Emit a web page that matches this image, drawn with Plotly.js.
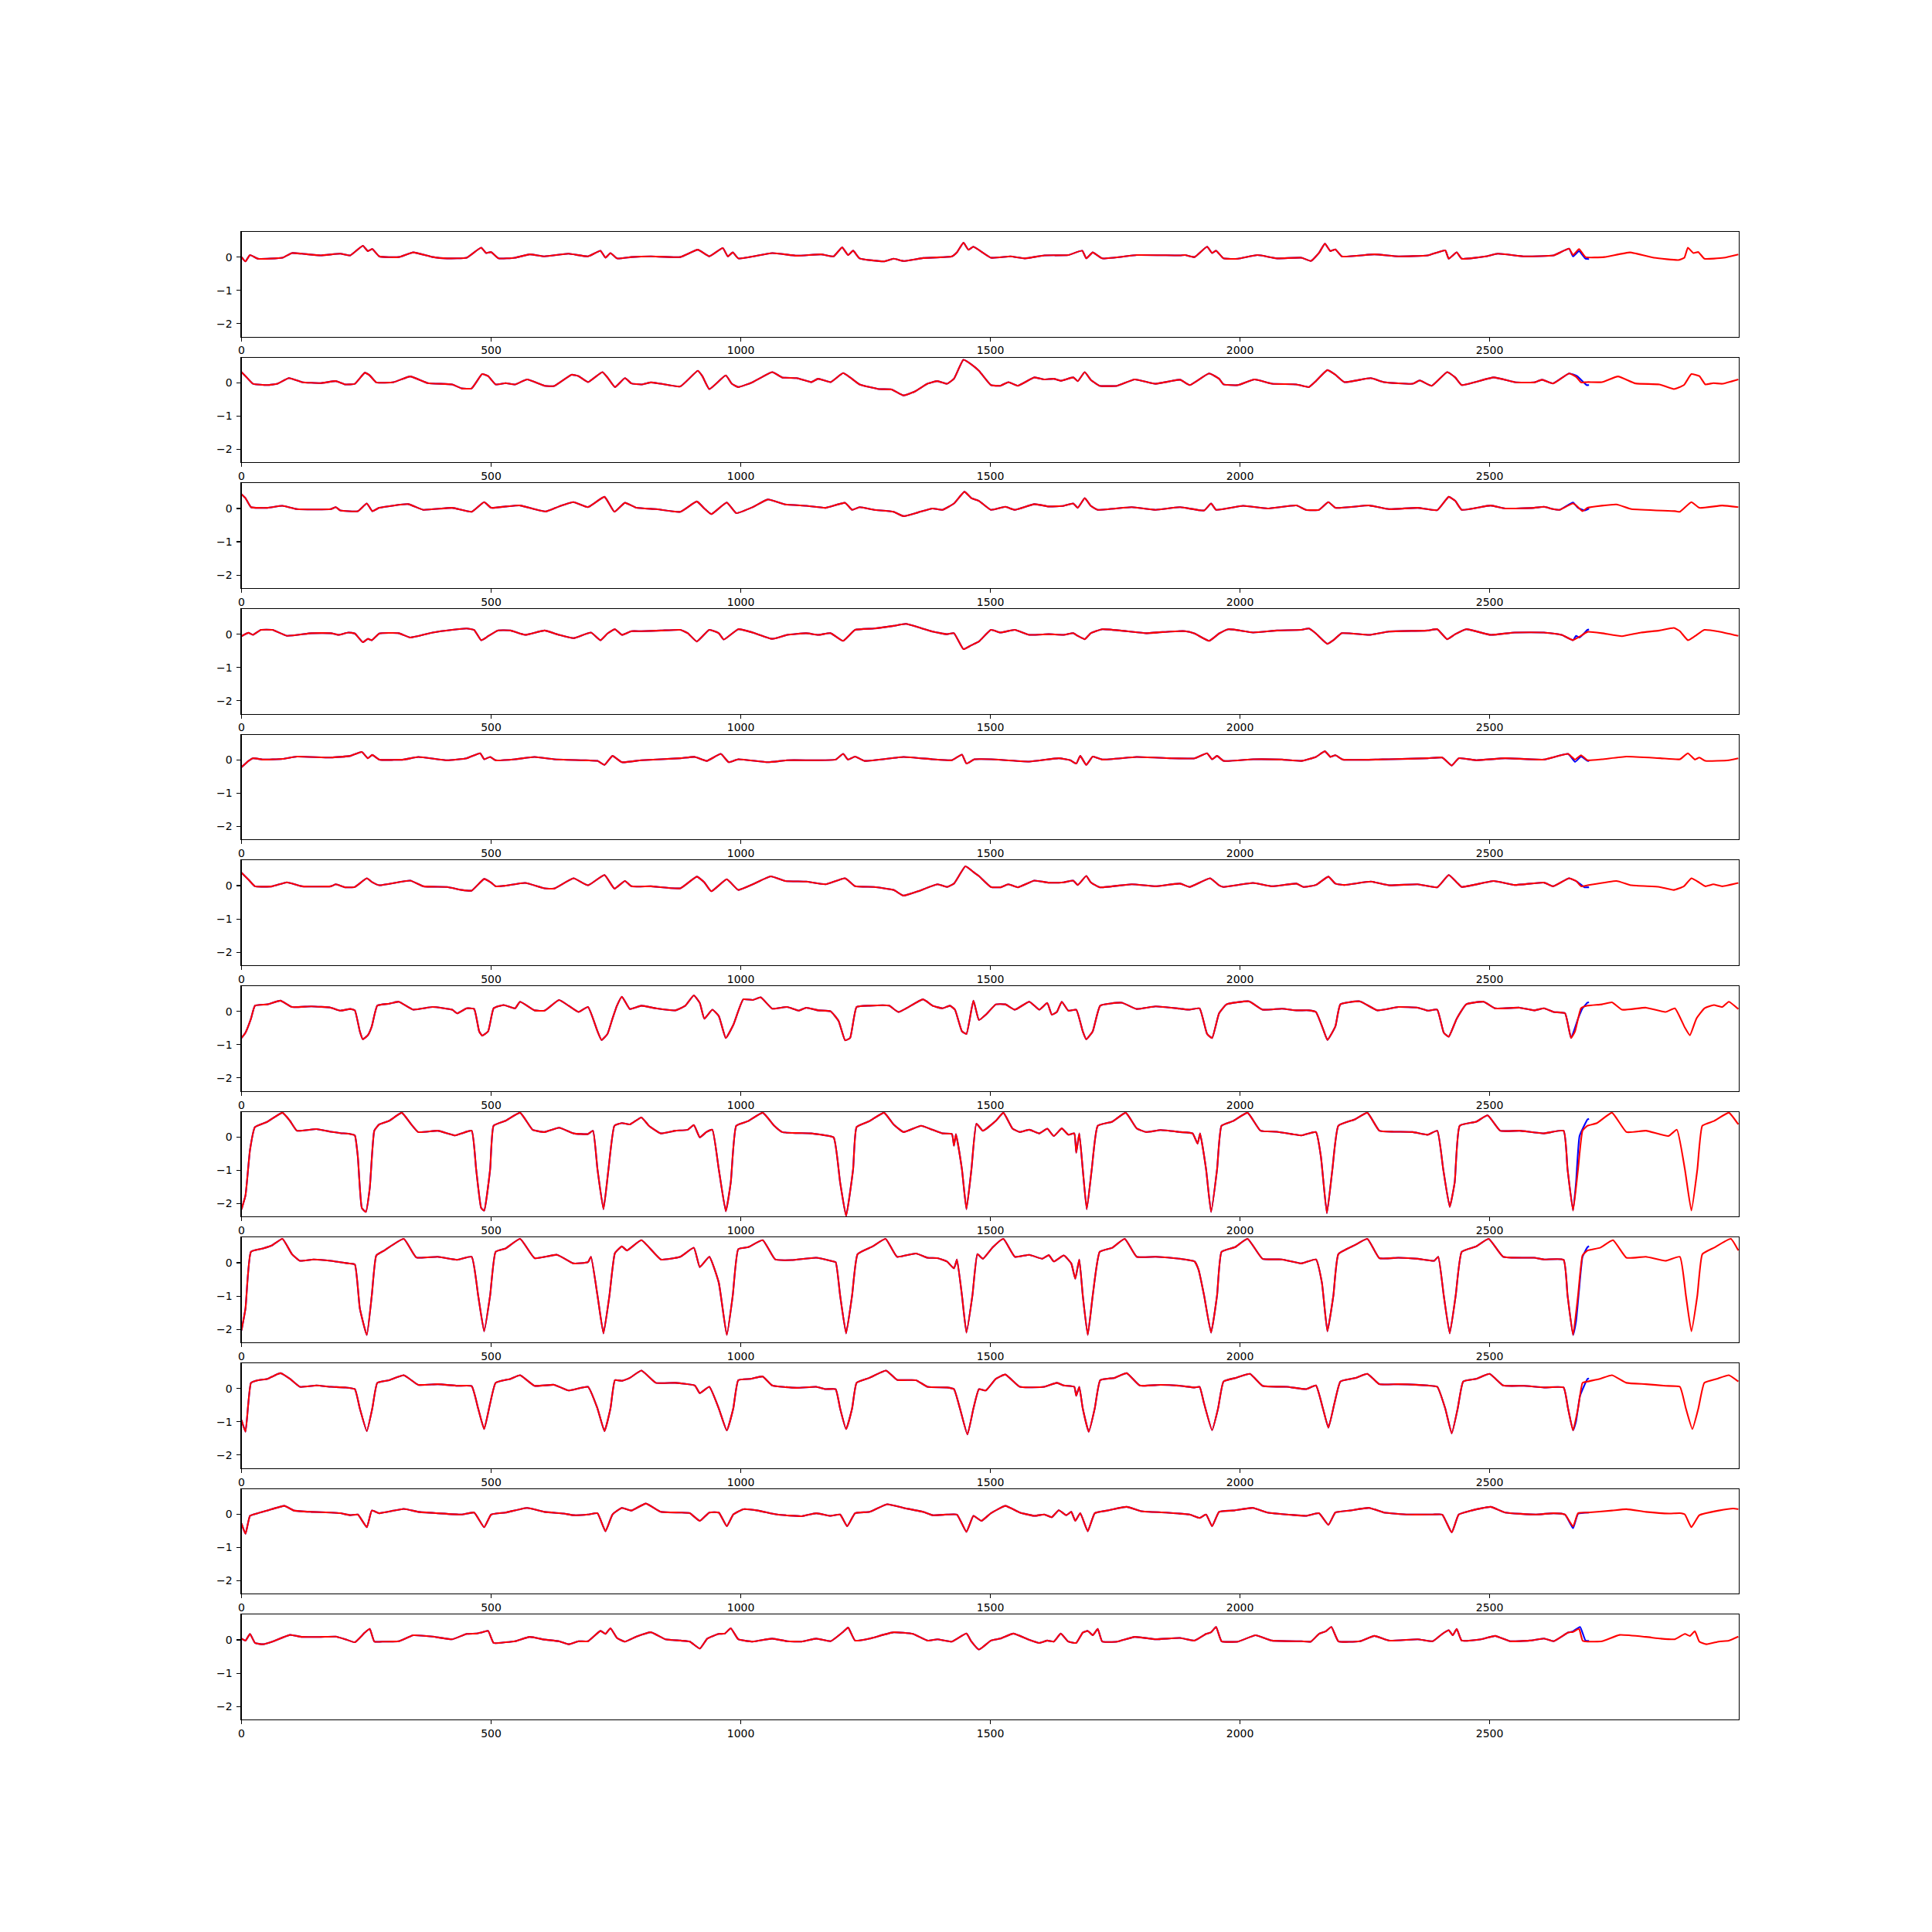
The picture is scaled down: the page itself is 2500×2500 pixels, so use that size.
<!DOCTYPE html>
<html>
<head>
<meta charset="utf-8">
<script src="https://cdn.plot.ly/plotly-3.0.1.min.js"></script>
<style>html,body{margin:0;padding:0;background:#fff;}#chart{width:2500px;height:2500px;}</style>
</head>
<body>
<div id="chart"></div>
<script>
// Each lead: [sample index, amplitude] pairs (red trace, 0..2999)
const lead1 = [[0,0],[8,-0.13],[17,0.06],[33,-0.05],[82,-0.02],[101,0.12],[121,0.10],[159,0.05],[198,0.10],[218,0.05],[243,0.34],[253,0.18],[262,0.24],[276,0.02],[315,0],[344,0.14],[383,0],[412,-0.04],[451,-0.02],[480,0.28],[490,0.12],[500,0.15],[515,-0.04],[548,-0.02],[577,0.08],[607,0.02],[655,0.10],[694,0.02],[719,0.19],[729,-0.02],[739,0.12],[752,-0.04],[781,0],[820,0.02],[879,0],[914,0.22],[937,0.02],[964,0.27],[974,0.02],[984,0.14],[995,-0.04],[1063,0.12],[1112,0.04],[1161,0.08],[1186,0.02],[1203,0.29],[1215,0.06],[1225,0.19],[1238,-0.04],[1287,-0.13],[1306,-0.05],[1326,-0.12],[1365,-0.03],[1423,0.02],[1433,0.14],[1446,0.43],[1456,0.22],[1466,0.31],[1501,-0.02],[1540,0.02],[1569,-0.04],[1608,0.05],[1656,0.06],[1684,0.19],[1692,-0.04],[1705,0.14],[1724,-0.04],[1793,0.06],[1880,0.05],[1890,0.06],[1909,0],[1934,0.31],[1944,0.12],[1952,0.19],[1967,-0.04],[1996,-0.05],[2035,0.06],[2074,-0.04],[2123,-0.02],[2142,-0.12],[2158,0.12],[2170,0.40],[2181,0.18],[2191,0.23],[2204,0.02],[2269,0.08],[2317,0.02],[2376,0.05],[2411,0.20],[2418,-0.05],[2434,0.14],[2444,-0.05],[2492,0.02],[2516,0.10],[2570,0.02],[2628,0.05],[2659,0.25],[2667,0.06],[2679,0.24],[2692,0],[2730,0],[2781,0.14],[2829,-0.02],[2878,-0.09],[2890,-0.02],[2897,0.28],[2908,0.12],[2918,0.15],[2930,-0.05],[2969,-0.02],[2998,0.08]];
const lead2 = [[0,0.32],[8,0.20],[23,-0.03],[52,-0.07],[72,-0.03],[95,0.14],[121,0.02],[159,-0.01],[189,0.05],[208,-0.05],[227,-0.03],[247,0.30],[257,0.22],[270,0.01],[305,0.02],[338,0.19],[373,-0.01],[422,-0.05],[441,-0.17],[461,-0.17],[482,0.26],[494,0.20],[509,-0.05],[529,-0.01],[548,-0.05],[572,0.10],[607,-0.09],[626,-0.10],[661,0.24],[675,0.20],[694,0.02],[723,0.32],[733,0.16],[748,-0.13],[768,0.14],[781,-0.02],[801,-0.05],[820,0.01],[840,-0.03],[879,-0.11],[914,0.36],[923,0.20],[937,-0.19],[970,0.22],[982,-0.03],[995,-0.13],[1024,0.02],[1063,0.32],[1083,0.16],[1112,0.14],[1141,0.02],[1155,0.12],[1180,0.02],[1205,0.29],[1219,0.16],[1238,-0.05],[1277,-0.19],[1302,-0.20],[1326,-0.38],[1349,-0.26],[1374,-0.03],[1394,0.05],[1413,-0.03],[1427,0.12],[1446,0.69],[1462,0.55],[1477,0.36],[1501,-0.07],[1520,-0.09],[1536,0.02],[1555,-0.09],[1588,0.16],[1608,0.10],[1627,0.12],[1641,0.06],[1666,0.16],[1675,0.05],[1689,0.32],[1701,0.09],[1719,-0.09],[1754,-0.09],[1789,0.10],[1831,-0.03],[1880,0.09],[1899,-0.07],[1938,0.28],[1958,0.12],[1967,-0.05],[1996,-0.07],[2029,0.10],[2064,-0.03],[2113,-0.05],[2138,-0.13],[2152,0.05],[2175,0.38],[2191,0.24],[2209,0.02],[2262,0.14],[2288,0.02],[2346,-0.03],[2360,0.07],[2384,-0.09],[2415,0.32],[2431,0.16],[2444,-0.07],[2508,0.16],[2550,0.02],[2589,0.01],[2605,0.09],[2627,-0.02],[2659,0.28],[2673,0.18],[2683,0.01],[2696,0.02],[2725,0.02],[2757,0.19],[2792,-0.02],[2840,-0.05],[2869,-0.19],[2889,-0.07],[2904,0.26],[2920,0.20],[2932,-0.05],[2948,-0.01],[2966,-0.03],[2998,0.10]];
const lead3 = [[0,0.43],[8,0.31],[19,0.04],[52,0.02],[82,0.08],[111,-0.02],[179,-0.02],[189,0.04],[198,-0.06],[233,-0.08],[251,0.15],[262,-0.08],[276,0.02],[334,0.13],[364,-0.04],[422,0.02],[461,-0.10],[486,0.19],[500,0.02],[529,0.06],[558,0.09],[587,-0.02],[610,-0.09],[636,0.06],[665,0.19],[694,0.04],[727,0.35],[747,-0.10],[768,0.17],[791,0.02],[830,-0.02],[879,-0.10],[912,0.21],[927,0],[941,-0.17],[972,0.18],[991,-0.14],[1024,0.04],[1054,0.27],[1089,0.12],[1131,0.08],[1170,0.02],[1209,0.17],[1223,-0.04],[1238,0.04],[1267,-0.04],[1306,-0.10],[1326,-0.23],[1355,-0.12],[1384,0],[1404,-0.04],[1427,0.15],[1448,0.50],[1462,0.31],[1477,0.23],[1501,-0.04],[1530,0.05],[1549,-0.04],[1588,0.13],[1617,0.06],[1647,0.08],[1666,0.15],[1675,0.02],[1689,0.31],[1701,0.08],[1715,-0.04],[1783,0.04],[1831,-0.04],[1880,0.04],[1928,-0.06],[1942,0.15],[1952,-0.04],[2006,0.08],[2055,0],[2113,0.09],[2132,-0.04],[2158,-0.04],[2177,0.19],[2191,0.02],[2259,0.09],[2298,-0.02],[2356,0.02],[2395,-0.05],[2418,0.35],[2431,0.23],[2444,-0.04],[2502,0.09],[2531,0],[2589,0.02],[2609,0.05],[2627,-0.02],[2640,-0.04],[2667,0.15],[2677,0.04],[2686,-0.08],[2696,0.02],[2754,0.12],[2784,-0.02],[2871,-0.08],[2881,-0.10],[2904,0.19],[2920,0.02],[2966,0.09],[2998,0.04]];
const lead4 = [[0,-0.06],[14,0.04],[23,-0.02],[39,0.13],[62,0.13],[91,-0.05],[140,0.03],[179,0.03],[194,-0.02],[214,0.05],[227,0.02],[243,-0.24],[253,-0.14],[261,-0.18],[276,0.02],[315,0.03],[338,-0.10],[383,0.05],[422,0.13],[451,0.17],[466,0.13],[480,-0.18],[494,-0.06],[513,0.11],[539,0.11],[568,-0.02],[607,0.11],[636,-0.02],[665,-0.12],[700,0.05],[719,-0.18],[733,0.02],[748,0.15],[762,-0.02],[781,0.09],[801,0.09],[840,0.11],[879,0.13],[894,0.03],[912,-0.22],[937,0.13],[956,0.03],[966,-0.16],[995,0.15],[1024,0.05],[1063,-0.14],[1093,-0.02],[1131,0.03],[1155,-0.02],[1180,0.03],[1205,-0.20],[1229,0.13],[1267,0.17],[1306,0.25],[1331,0.31],[1355,0.21],[1384,0.08],[1413,0],[1427,0.03],[1446,-0.45],[1462,-0.33],[1477,-0.22],[1501,0.13],[1520,0.05],[1549,0.13],[1578,-0.02],[1617,0],[1647,-0.02],[1666,0.03],[1675,-0.05],[1689,-0.15],[1701,0.03],[1724,0.15],[1773,0.09],[1812,0.03],[1860,0.08],[1890,0.09],[1909,0.02],[1938,-0.20],[1958,0.02],[1977,0.15],[2026,0.05],[2074,0.11],[2123,0.13],[2138,0.17],[2152,0.02],[2175,-0.29],[2187,-0.18],[2204,0.03],[2259,-0.02],[2298,0.08],[2376,0.11],[2395,0.15],[2415,-0.15],[2431,0],[2453,0.15],[2502,-0.02],[2550,0.05],[2609,0.05],[2644,-0.02],[2667,-0.18],[2677,-0.10],[2690,0.02],[2696,0.07],[2725,0.03],[2765,-0.06],[2803,0.05],[2840,0.11],[2869,0.19],[2881,0.09],[2897,-0.18],[2911,-0.06],[2930,0.13],[2959,0.08],[2998,-0.05]];
const lead5 = [[0,-0.22],[14,-0.03],[23,0.05],[43,0.01],[82,0.03],[111,0.10],[179,0.07],[218,0.12],[241,0.24],[253,0.05],[262,0.15],[276,0.01],[325,0.01],[354,0.09],[412,-0.01],[451,0.05],[478,0.20],[486,0.02],[498,0.09],[509,-0.01],[548,0.02],[587,0.09],[626,0.02],[684,-0.01],[713,-0.03],[727,-0.15],[743,0.12],[762,-0.07],[801,-0.01],[879,0.05],[908,0.09],[932,-0.03],[960,0.18],[976,-0.07],[995,0.02],[1054,-0.07],[1093,-0.01],[1151,-0.01],[1190,0.01],[1205,0.18],[1215,0.01],[1229,0.10],[1248,-0.03],[1326,0.09],[1384,0.02],[1423,-0.01],[1443,0.16],[1452,-0.11],[1468,0.02],[1501,0.02],[1578,-0.05],[1637,0.05],[1660,-0.01],[1672,-0.11],[1680,0.12],[1692,-0.15],[1705,0.10],[1724,0.01],[1793,0.09],[1860,0.05],[1909,0.05],[1934,0.20],[1944,0.02],[1954,0.12],[1967,-0.03],[2026,0.02],[2084,0.01],[2123,-0.03],[2152,0.09],[2170,0.26],[2181,0.09],[2191,0.14],[2206,0.01],[2298,0.02],[2376,0.05],[2405,0.07],[2424,-0.17],[2438,0.05],[2473,-0.01],[2531,0.05],[2609,0.01],[2657,0.18],[2671,0.01],[2683,0.14],[2696,-0.01],[2725,0.02],[2774,0.10],[2842,0.05],[2881,0.02],[2897,0.20],[2911,0.01],[2920,0.07],[2932,-0.03],[2979,-0.01],[2998,0.05]];
const lead6 = [[0,0.39],[14,0.18],[27,-0.02],[62,-0.02],[91,0.10],[121,-0.02],[179,-0.02],[189,0.04],[208,-0.05],[227,-0.04],[251,0.22],[262,0.10],[276,0.01],[338,0.15],[364,-0.02],[412,-0.04],[441,-0.13],[461,-0.15],[486,0.20],[500,0.09],[509,-0.02],[529,0],[568,0.08],[607,-0.08],[626,-0.09],[665,0.22],[694,0.01],[727,0.32],[747,-0.09],[768,0.14],[781,-0.02],[820,-0.02],[879,-0.08],[912,0.27],[927,0.10],[941,-0.17],[972,0.19],[995,-0.13],[1024,0.04],[1060,0.28],[1089,0.14],[1131,0.12],[1170,0.04],[1209,0.22],[1229,-0.02],[1267,-0.04],[1306,-0.13],[1326,-0.30],[1355,-0.17],[1394,0.04],[1413,-0.04],[1427,0.06],[1450,0.58],[1466,0.41],[1477,0.29],[1501,-0.04],[1520,-0.05],[1536,0.04],[1555,-0.05],[1588,0.15],[1617,0.09],[1647,0.10],[1666,0.15],[1675,0.02],[1692,0.29],[1701,0.10],[1719,-0.05],[1783,0.04],[1831,-0.02],[1880,0.06],[1899,-0.04],[1940,0.22],[1958,0.01],[1967,-0.04],[2026,0.08],[2064,-0.02],[2113,0.06],[2127,-0.04],[2152,0.02],[2177,0.27],[2191,0.06],[2209,0.02],[2262,0.12],[2298,0.01],[2356,0.04],[2395,-0.05],[2418,0.32],[2434,0.10],[2444,-0.04],[2508,0.14],[2550,0.02],[2609,0.09],[2627,-0.02],[2659,0.22],[2673,0.14],[2683,-0.02],[2696,0.01],[2754,0.14],[2784,0.01],[2840,-0.04],[2869,-0.13],[2889,-0.02],[2904,0.22],[2920,0.09],[2932,-0.02],[2948,0.04],[2966,-0.02],[2998,0.08]];
const lead7 = [[0,-0.80],[8,-0.64],[19,-0.22],[27,0.17],[52,0.21],[78,0.32],[101,0.13],[140,0.15],[179,0.11],[198,0.02],[218,0.07],[227,0.03],[237,-0.60],[243,-0.84],[253,-0.72],[261,-0.45],[272,0.17],[296,0.23],[315,0.29],[344,0.05],[383,0.13],[422,0.05],[432,-0.06],[451,0.09],[466,0.07],[476,-0.60],[482,-0.73],[494,-0.60],[505,0.09],[525,0.19],[548,0.09],[558,0.29],[587,0.03],[607,0.02],[636,0.34],[655,0.17],[675,-0.02],[694,0.13],[713,-0.60],[721,-0.86],[733,-0.68],[743,-0.22],[752,0.17],[762,0.44],[778,0.07],[801,0.17],[830,0.09],[869,0.03],[889,0.17],[906,0.48],[918,0.25],[927,-0.22],[943,0.05],[956,-0.14],[970,-0.80],[985,-0.41],[1005,0.36],[1024,0.34],[1040,0.42],[1063,0.08],[1093,0.13],[1116,0.02],[1131,0.11],[1155,0.03],[1180,0],[1196,-0.29],[1209,-0.87],[1219,-0.80],[1232,0.13],[1258,0.17],[1297,0.17],[1316,-0.02],[1365,0.36],[1384,0.17],[1404,0.09],[1419,0.17],[1429,0.05],[1443,-0.60],[1452,-0.68],[1466,0.32],[1477,-0.26],[1491,-0.10],[1511,0.21],[1530,0.21],[1549,0.05],[1578,0.29],[1598,0.05],[1614,0.25],[1623,-0.10],[1633,-0.02],[1643,0.29],[1656,0.02],[1672,0.05],[1685,-0.60],[1692,-0.84],[1705,-0.60],[1720,0.17],[1763,0.26],[1793,0.07],[1831,0.15],[1880,0.08],[1899,0.05],[1919,0.09],[1934,-0.68],[1944,-0.80],[1958,-0.06],[1973,0.21],[2018,0.30],[2045,0.05],[2084,0.08],[2113,0.03],[2138,0.03],[2152,-0.02],[2168,-0.60],[2175,-0.86],[2191,-0.45],[2201,0.21],[2240,0.30],[2275,0.03],[2317,0.13],[2356,0.11],[2376,0.02],[2395,0.05],[2408,-0.64],[2418,-0.76],[2434,-0.22],[2453,0.21],[2488,0.29],[2511,0.09],[2560,0.11],[2589,0.03],[2609,0.09],[2628,-0.02],[2651,-0.06],[2663,-0.80],[2671,-0.60],[2683,0.09],[2696,0.17],[2725,0.21],[2745,0.27],[2765,0.05],[2813,0.11],[2852,-0.02],[2871,0.09],[2891,-0.49],[2901,-0.72],[2914,-0.22],[2930,0.09],[2949,0.19],[2966,0.13],[2979,0.29],[2998,0.07]];
const lead8 = [[0,-2.17],[8,-1.75],[17,-0.39],[27,0.30],[52,0.46],[82,0.73],[97,0.49],[111,0.19],[150,0.24],[179,0.16],[198,0.12],[218,0.09],[227,0.05],[233,-0.59],[241,-2.13],[249,-2.25],[257,-1.52],[266,0.19],[276,0.38],[296,0.49],[321,0.73],[338,0.42],[354,0.15],[393,0.19],[428,0.05],[441,0.11],[461,0.19],[470,-0.97],[480,-2.13],[486,-2.21],[498,-0.97],[505,0.34],[529,0.49],[558,0.73],[583,0.22],[607,0.15],[636,0.28],[665,0.11],[694,0.09],[704,0.19],[713,-0.97],[725,-2.17],[735,-0.97],[747,0.34],[762,0.42],[778,0.38],[801,0.59],[816,0.34],[840,0.11],[869,0.19],[894,0.22],[906,0.36],[918,-0.01],[931,0.15],[943,0.22],[956,-0.97],[970,-2.23],[980,-1.36],[991,0.34],[1015,0.48],[1044,0.73],[1067,0.34],[1083,0.15],[1112,0.12],[1141,0.11],[1161,0.07],[1186,-0.01],[1199,-1.36],[1211,-2.37],[1225,-0.97],[1232,0.30],[1258,0.48],[1287,0.73],[1306,0.38],[1326,0.15],[1361,0.34],[1384,0.22],[1404,0.11],[1423,0.09],[1427,-0.26],[1431,0.09],[1443,-0.97],[1452,-2.17],[1462,-0.97],[1472,0.40],[1485,0.19],[1511,0.49],[1526,0.73],[1544,0.26],[1559,0.15],[1578,0.22],[1598,0.11],[1614,0.25],[1627,0.03],[1643,0.26],[1656,0.07],[1668,0.11],[1672,-0.47],[1678,0.11],[1685,-0.97],[1693,-2.17],[1703,-0.97],[1715,0.34],[1744,0.46],[1771,0.73],[1793,0.26],[1812,0.15],[1841,0.21],[1880,0.15],[1905,0.11],[1915,-0.20],[1920,0.11],[1932,-0.97],[1942,-2.25],[1954,-0.97],[1963,0.34],[1986,0.48],[2015,0.73],[2041,0.19],[2074,0.16],[2123,0.05],[2152,0.15],[2162,-0.59],[2174,-2.29],[2185,-0.97],[2197,0.34],[2230,0.53],[2255,0.73],[2279,0.19],[2308,0.16],[2346,0.15],[2376,0.07],[2395,0.19],[2407,-0.97],[2420,-2.10],[2430,-1.36],[2440,0.34],[2473,0.46],[2496,0.65],[2521,0.19],[2560,0.19],[2609,0.11],[2648,0.19],[2656,-0.97],[2667,-2.21],[2677,-0.97],[2686,0.19],[2696,0.34],[2715,0.42],[2745,0.73],[2774,0.15],[2813,0.19],[2858,0.03],[2875,0.22],[2891,-0.97],[2904,-2.21],[2916,-0.97],[2926,0.34],[2949,0.48],[2979,0.73],[2998,0.38]];
const lead9 = [[0,-2.03],[8,-1.37],[19,0.33],[43,0.43],[62,0.53],[82,0.72],[101,0.26],[117,0.06],[144,0.10],[179,0.06],[214,-0.02],[227,-0.05],[237,-1.37],[251,-2.17],[261,-0.98],[270,0.22],[286,0.37],[325,0.72],[350,0.16],[393,0.18],[432,0.09],[461,0.18],[474,-0.98],[486,-2.06],[498,-0.98],[509,0.33],[529,0.43],[558,0.72],[587,0.14],[632,0.24],[665,-0.02],[694,0.02],[700,0.18],[713,-0.98],[725,-2.12],[737,-0.98],[748,0.29],[762,0.49],[772,0.37],[801,0.68],[840,0.10],[879,0.18],[906,0.45],[918,-0.13],[937,0.18],[956,-0.60],[972,-2.17],[984,-0.98],[995,0.41],[1015,0.47],[1044,0.68],[1069,0.10],[1102,0.08],[1151,0.15],[1180,0.06],[1190,0.02],[1199,-0.98],[1211,-2.12],[1223,-0.98],[1234,0.26],[1264,0.49],[1290,0.72],[1313,0.18],[1351,0.28],[1374,0.15],[1394,0.14],[1413,0.04],[1427,-0.17],[1433,0.10],[1443,-0.98],[1452,-2.10],[1464,-0.98],[1474,0.26],[1485,0.12],[1505,0.47],[1526,0.72],[1549,0.18],[1578,0.24],[1604,0.12],[1617,0.23],[1627,0.04],[1647,0.22],[1662,-0.02],[1670,-0.48],[1678,0.10],[1685,-0.98],[1695,-2.17],[1705,-0.98],[1719,0.33],[1744,0.45],[1769,0.72],[1793,0.18],[1831,0.18],[1880,0.12],[1909,0.04],[1917,-0.21],[1928,-0.98],[1942,-2.10],[1954,-0.98],[1963,0.33],[1990,0.47],[2015,0.72],[2045,0.12],[2084,0.10],[2123,-0.02],[2152,0.10],[2164,-0.60],[2175,-2.06],[2187,-0.98],[2197,0.26],[2230,0.53],[2255,0.72],[2279,0.14],[2317,0.15],[2356,0.12],[2389,0.06],[2397,0.18],[2408,-0.98],[2420,-2.12],[2432,-0.98],[2444,0.33],[2473,0.49],[2498,0.72],[2527,0.18],[2589,0.15],[2609,0.10],[2648,0.09],[2656,-0.98],[2667,-2.17],[2677,-0.98],[2686,0.22],[2696,0.37],[2721,0.45],[2747,0.68],[2774,0.15],[2813,0.18],[2852,0.06],[2881,0.18],[2893,-0.98],[2904,-2.06],[2916,-0.98],[2926,0.26],[2949,0.45],[2983,0.72],[2998,0.37]];
const lead10 = [[0,-0.95],[8,-1.30],[19,0.17],[33,0.25],[52,0.29],[78,0.46],[97,0.29],[117,0.05],[150,0.09],[179,0.05],[208,0.03],[227,-0.02],[237,-0.60],[251,-1.28],[262,-0.60],[272,0.17],[296,0.25],[325,0.40],[354,0.11],[393,0.13],[432,0.08],[461,0.07],[474,-0.60],[486,-1.22],[498,-0.45],[509,0.17],[539,0.29],[558,0.40],[587,0.08],[626,0.11],[655,-0.06],[694,0.05],[713,-0.60],[727,-1.28],[739,-0.60],[748,0.25],[762,0.23],[778,0.32],[801,0.54],[830,0.17],[869,0.17],[908,0.09],[918,-0.14],[937,0.05],[956,-0.60],[972,-1.26],[985,-0.60],[995,0.25],[1020,0.29],[1044,0.36],[1063,0.09],[1112,0.02],[1151,0.05],[1170,-0.02],[1190,-0.02],[1199,-0.60],[1211,-1.22],[1223,-0.60],[1232,0.17],[1258,0.32],[1291,0.54],[1313,0.26],[1351,0.25],[1374,0.05],[1413,0.03],[1427,-0.02],[1439,-0.60],[1454,-1.38],[1466,-0.60],[1477,-0.02],[1491,-0.06],[1511,0.29],[1530,0.42],[1559,0.05],[1608,0.05],[1633,0.17],[1647,0.09],[1668,0.05],[1672,-0.22],[1678,0.05],[1685,-0.60],[1697,-1.30],[1709,-0.60],[1720,0.25],[1749,0.32],[1773,0.46],[1799,0.09],[1841,0.11],[1880,0.08],[1909,0.03],[1919,0.05],[1928,-0.45],[1944,-1.25],[1956,-0.60],[1967,0.21],[1992,0.32],[2020,0.44],[2045,0.08],[2094,0.05],[2132,-0.02],[2152,0.09],[2166,-0.60],[2177,-1.18],[2189,-0.45],[2201,0.21],[2230,0.31],[2255,0.44],[2279,0.13],[2317,0.13],[2376,0.09],[2395,0.05],[2411,-0.60],[2424,-1.35],[2436,-0.60],[2447,0.21],[2473,0.29],[2500,0.44],[2527,0.09],[2569,0.08],[2609,0.03],[2648,0.03],[2657,-0.60],[2667,-1.26],[2677,-0.60],[2686,0.17],[2696,0.21],[2721,0.29],[2745,0.40],[2774,0.17],[2813,0.13],[2852,0.08],[2881,0.05],[2893,-0.60],[2906,-1.22],[2918,-0.60],[2930,0.17],[2955,0.29],[2979,0.40],[2998,0.21]];
const lead11 = [[0,-0.28],[8,-0.59],[17,-0.05],[33,0.03],[52,0.11],[86,0.25],[105,0.11],[140,0.07],[179,0.05],[198,0.03],[218,-0.03],[233,-0.01],[251,-0.39],[261,0.11],[276,0.03],[325,0.16],[354,0.07],[393,0.03],[441,-0.01],[466,0.05],[486,-0.39],[500,-0.01],[529,0.05],[572,0.19],[607,0.07],[645,0.02],[665,-0.03],[694,-0.01],[713,0.03],[729,-0.51],[743,-0.01],[762,0.19],[781,0.11],[810,0.32],[840,0.07],[879,0.05],[898,0.03],[918,-0.20],[937,0.05],[956,0.05],[972,-0.36],[985,-0.01],[1005,0.15],[1034,0.11],[1073,-0.01],[1122,-0.06],[1151,0.03],[1180,-0.05],[1199,-0.01],[1213,-0.36],[1229,0.03],[1258,0.07],[1293,0.30],[1326,0.19],[1365,0.07],[1384,-0.03],[1413,-0.01],[1433,-0.01],[1452,-0.53],[1466,-0.05],[1482,-0.20],[1501,0.03],[1530,0.25],[1559,0.05],[1588,-0.05],[1608,-0.01],[1623,-0.09],[1637,0.12],[1652,-0.03],[1662,0.07],[1670,-0.20],[1680,0.03],[1695,-0.51],[1709,0.03],[1734,0.11],[1773,0.22],[1802,0.09],[1851,0.05],[1899,-0.01],[1919,-0.11],[1932,-0.01],[1944,-0.36],[1958,0.07],[1986,0.11],[2026,0.19],[2055,0.05],[2103,-0.02],[2132,-0.05],[2158,0.03],[2177,-0.32],[2191,0.05],[2220,0.11],[2259,0.19],[2288,0.05],[2337,-0.01],[2386,-0.01],[2405,-0.01],[2424,-0.55],[2438,-0.01],[2463,0.11],[2502,0.22],[2531,0.05],[2593,-0.01],[2628,0.03],[2651,-0.01],[2667,-0.37],[2677,0.03],[2696,0.05],[2745,0.11],[2774,0.15],[2813,0.07],[2860,0.02],[2881,0.03],[2891,-0.01],[2904,-0.39],[2920,-0.03],[2959,0.11],[2988,0.17],[2998,0.15]];
const lead12 = [[0,0.04],[8,-0.02],[17,0.18],[27,-0.09],[43,-0.13],[62,-0.05],[97,0.15],[121,0.09],[159,0.09],[189,0.10],[208,0.02],[227,-0.07],[247,0.22],[257,0.33],[266,-0.05],[286,-0.05],[315,-0.04],[344,0.14],[383,0.10],[422,0.02],[451,0.18],[470,0.19],[480,0.22],[494,0.27],[505,-0.09],[529,-0.07],[548,-0.04],[577,0.09],[607,0.01],[636,-0.04],[655,-0.13],[675,-0.04],[694,-0.04],[719,0.27],[729,0.18],[739,0.35],[752,0.06],[768,-0.05],[791,0.10],[820,0.23],[849,0.02],[879,-0.02],[898,-0.05],[918,-0.26],[933,0.04],[956,0.18],[968,0.19],[980,0.35],[995,0.02],[1024,-0.05],[1063,0.04],[1093,-0.04],[1122,-0.05],[1151,0.04],[1180,-0.04],[1205,0.24],[1215,0.37],[1229,-0.02],[1258,0.04],[1306,0.23],[1345,0.18],[1374,-0.02],[1394,0.02],[1423,-0.05],[1452,0.19],[1462,-0.05],[1477,-0.29],[1501,-0.02],[1520,0.04],[1546,0.19],[1575,0.02],[1598,-0.09],[1614,-0.02],[1627,-0.05],[1641,0.19],[1656,-0.05],[1672,-0.09],[1685,0.22],[1695,0.27],[1705,0.14],[1715,0.33],[1724,-0.05],[1754,-0.05],[1789,0.09],[1831,0.02],[1880,0.06],[1909,-0.02],[1932,0.18],[1942,0.23],[1952,0.39],[1963,-0.04],[1996,-0.05],[2031,0.14],[2064,-0.02],[2123,-0.04],[2142,-0.05],[2158,0.18],[2172,0.26],[2183,0.39],[2197,-0.04],[2240,-0.04],[2269,0.12],[2298,-0.02],[2356,0.02],[2386,-0.04],[2405,0.18],[2418,0.29],[2426,0.14],[2434,0.33],[2444,-0.02],[2483,0.02],[2511,0.12],[2541,-0.04],[2580,-0.02],[2609,0.04],[2628,-0.04],[2657,0.22],[2667,0.24],[2679,0.33],[2686,-0.02],[2696,-0.05],[2725,-0.04],[2760,0.15],[2813,0.09],[2842,0.04],[2871,0.02],[2891,0.18],[2901,0.12],[2911,0.26],[2920,-0.05],[2934,-0.13],[2959,-0.05],[2979,-0.02],[2998,0.10]];

// Blue trace (0..2699) coincides with red except at its end; its visible tail per lead:
const blueTail1 = [[2659,0.25],[2667,0.02],[2679,0.18],[2692,-0.05],[2699,-0.06]];
const blueTail2 = [[2659,0.28],[2675,0.20],[2694,-0.07],[2699,-0.07]];
const blueTail3 = [[2667,0.18],[2677,0.02],[2690,-0.06],[2699,0.0]];
const blueTail4 = [[2667,-0.18],[2673,-0.05],[2680,-0.10],[2696,0.13],[2699,0.14]];
const blueTail5 = [[2657,0.18],[2671,-0.06],[2683,0.10],[2696,-0.03],[2699,-0.03]];
const blueTail6 = [[2659,0.22],[2675,0.12],[2690,-0.05],[2699,-0.05]];
const blueTail7 = [[2663,-0.80],[2677,-0.22],[2686,0.09],[2696,0.26],[2699,0.27]];
const blueTail8 = [[2667,-2.21],[2673,-1.36],[2680,0.03],[2696,0.53],[2699,0.55]];
const blueTail9 = [[2667,-2.17],[2673,-1.76],[2679,-0.83],[2686,0.18],[2696,0.47],[2699,0.50]];
const blueTail10 = [[2667,-1.26],[2673,-0.99],[2681,-0.22],[2696,0.29],[2699,0.30]];
const blueTail11 = [[2667,-0.42],[2677,0.01],[2699,0.05]];
const blueTail12 = [[2667,0.26],[2681,0.39],[2692,-0.02],[2699,-0.03]];

const leads = [lead1,lead2,lead3,lead4,lead5,lead6,lead7,lead8,lead9,lead10,lead11,lead12];
const blueTails = [blueTail1,blueTail2,blueTail3,blueTail4,blueTail5,blueTail6,blueTail7,blueTail8,blueTail9,blueTail10,blueTail11,blueTail12];
const xTicks = [0,500,1000,1500,2000,2500];
const yTicks = [-2,-1,0];
const xRange = [0, 2999];
const yRange = [-2.39, 0.757];

const W = 2500, H = 2500;
const plotTop = 300, plotBottom = 2225;
const n = 12, hspace = 0.2;
const ph = (plotBottom - plotTop) / (n + (n - 1) * hspace);
const gap = ph * hspace;

const traces = [];
const layout = {
  width: W, height: H,
  margin: {l: 0, r: 0, t: 0, b: 0},
  paper_bgcolor: '#ffffff', plot_bgcolor: '#ffffff',
  showlegend: false,
  font: {family: 'DejaVu Sans', size: 14, color: '#000000'}
};

const lineShape = {shape: 'spline', smoothing: 0.4};

for (let i = 0; i < n; i++) {
  const k = i + 1;
  const red = leads[i];
  const tail = blueTails[i];
  const blue = red.filter(p => p[0] < tail[0][0]).concat(tail);
  traces.push({
    x: blue.map(p => p[0]), y: blue.map(p => p[1]),
    type: 'scatter', mode: 'lines',
    line: Object.assign({color: '#0000ff', width: 2.1}, lineShape),
    xaxis: 'x' + k, yaxis: 'y' + k, hoverinfo: 'skip', cliponaxis: true
  });
  traces.push({
    x: red.map(p => p[0]), y: red.map(p => p[1]),
    type: 'scatter', mode: 'lines',
    line: Object.assign({color: '#ff0000', width: 2.1}, lineShape),
    xaxis: 'x' + k, yaxis: 'y' + k, hoverinfo: 'skip', cliponaxis: true
  });
  const top = plotTop + i * (ph + gap);
  const bot = top + ph;
  const axCommon = {
    showline: true, mirror: true, linecolor: '#000000', linewidth: 1.1,
    showgrid: false, zeroline: false,
    ticks: 'outside', ticklen: 5, tickwidth: 1.1, tickcolor: '#000000',
    tickfont: {family: 'DejaVu Sans', size: 14, color: '#000000'},
    fixedrange: true
  };
  layout['xaxis' + k] = Object.assign({}, axCommon, {
    domain: [312.5 / W, 2250 / W],
    anchor: 'y' + k,
    range: xRange,
    tickmode: 'array', tickvals: xTicks, ticktext: xTicks.map(String),
    ticklabelstandoff: 0
  });
  layout['yaxis' + k] = Object.assign({}, axCommon, {
    domain: [1 - bot / H, 1 - top / H],
    anchor: 'x' + k,
    range: yRange,
    tickmode: 'array', tickvals: yTicks, ticktext: yTicks.map(v => v < 0 ? '\u2212' + Math.abs(v) : String(v)),
    ticklabelstandoff: 3
  });
}

Plotly.newPlot('chart', traces, layout, {staticPlot: true, displayModeBar: false});
</script>
</body>
</html>
